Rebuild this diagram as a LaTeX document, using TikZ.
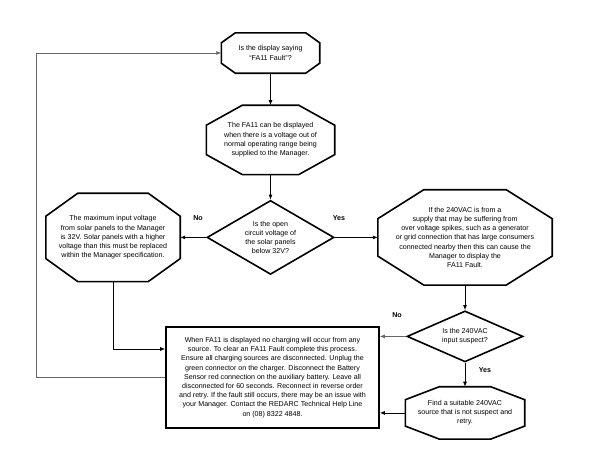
\documentclass[tikz,border=0pt]{standalone}
\usepackage{fontspec}
\setmainfont{Liberation Sans}
\usetikzlibrary{arrows.meta,positioning,shapes.geometric}

\newcommand{\flowfont}{\fontsize{7.1}{9.2}\selectfont}
% octagon round a node: name, corner cut x, corner cut y
\newcommand{\octagon}[3]{%
  \draw[line width=1.6pt]
    ([xshift=#2]#1.north west) -- ([xshift=-#2]#1.north east)
    -- ([yshift=-#3]#1.north east) -- ([yshift=#3]#1.south east)
    -- ([xshift=-#2]#1.south east) -- ([xshift=#2]#1.south west)
    -- ([yshift=#3]#1.south west) -- ([yshift=-#3]#1.north west) -- cycle;}

\begin{document}
\begin{tikzpicture}[x=1pt,y=-1pt,
  oct/.style={
    rectangle,
    inner sep=0pt,
    align=center,
    font=\flowfont
  },
  dia/.style={
    draw,
    diamond,
    line width=1.6pt,
    inner sep=0pt,
    align=center,
    font=\flowfont
  },
  box/.style={
    draw,
    rectangle,
    line width=1.6pt,
    inner sep=0pt,
    align=center,
    font=\flowfont
  },
  edge/.style={line width=0.8pt, -{Latex[length=5pt,width=4pt]}},
  grey edge/.style={edge, draw=black!60},
  lab/.style={font=\flowfont\bfseries}
]

\useasboundingbox (0,0) rectangle (593,475);

\node[oct, minimum width=98pt, minimum height=40pt] (q1) at (270.5,53)
{Is the display saying\\``FA11 Fault''?};

\node[oct, below=32pt of q1, minimum width=128pt, minimum height=69pt] (i1)
{The FA11 can be displayed\\when there is a voltage out of\\normal operating range being\\supplied to the Manager.};

\node[dia, below=25pt of i1, aspect=1.72, minimum width=127pt, minimum height=74pt] (q2)
{Is the open\\circuit voltage of\\the solar panels\\below 32V?};

\node[oct, left=26pt of q2, minimum width=134pt, minimum height=88pt] (i2)
{The maximum input voltage\\from solar panels to the Manager\\is 32V. Solar panels with a higher\\voltage than this must be replaced\\within the Manager specification.};

\node[oct, right=43pt of q2, minimum width=174pt, minimum height=95pt] (i3)
{If the 240VAC is from a\\supply that may be suffering from\\over voltage spikes, such as a generator\\or grid connection that has large consumers\\connected nearby then this can cause the\\Manager to display the\\FA11 Fault.};

\node[dia, below=25pt of i3, aspect=2.27, minimum width=116pt, minimum height=51pt] (q3)
{Is the 240VAC\\input suspect?};

\node[oct, below=24pt of q3, minimum width=119pt, minimum height=52pt] (i4)
{Find a suitable 240VAC\\source that is not suspect and\\retry.};

\node[box, below=51pt of q2, xshift=2pt, minimum width=213pt, minimum height=101pt] (r1)
{When FA11 is displayed no charging will occur from any\\source. To clear an FA11 Fault complete this process.\\Ensure all charging sources are disconnected. Unplug the\\green connector on the charger. Disconnect the Battery\\Sensor red connection on the auxiliary battery. Leave all\\disconnected for 60 seconds. Reconnect in reverse order\\and retry. If the fault still occurs, there may be an issue with\\your Manager. Contact the REDARC Technical Help Line\\on (08) 8322 4848.};

\octagon{q1}{14pt}{10pt}
\octagon{i1}{36pt}{20pt}
\octagon{i2}{32pt}{23pt}
\octagon{i3}{46pt}{29pt}
\octagon{i4}{34pt}{13pt}

\coordinate (loop) at (36,0);

\draw[edge] (q1) -- (i1);
\draw[edge] (i1) -- (q2);
\draw[edge] (q2) -- (i2);
\draw[edge] (q2) -- (i3);
\draw[edge] (i3) -- (q3);
\draw[edge] (q3) -- (i4);
\draw[grey edge] (q3.west) -- (q3.west -| r1.east);
\draw[edge] (i4.west) -- (i4.west -| r1.east);
\draw[edge] (i2.south) |- ([yshift=28.5pt]r1.west);
\draw[grey edge] (r1.west) -- (r1.west -| loop) |- (q1.west);

\node[lab] at (198,218) {No};
\node[lab] at (339,218) {Yes};
\node[lab] at (397,315) {No};
\node[lab] at (485,370) {Yes};

\end{tikzpicture}
\end{document}
